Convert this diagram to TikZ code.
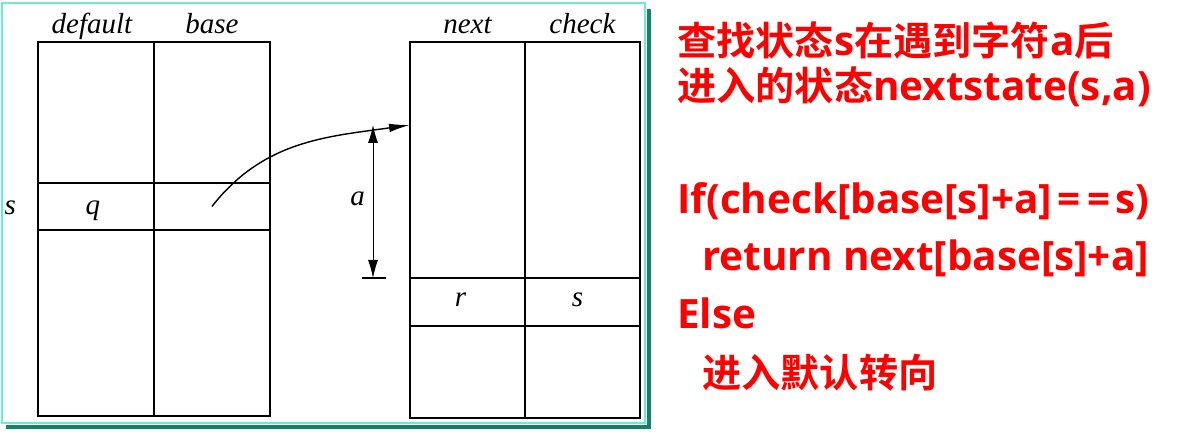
\documentclass[tikz,border=0pt]{standalone}
\usepackage{fontspec}
\usetikzlibrary{arrows.meta, positioning}
\newfontfamily\tms{Liberation Serif}
\newfontfamily\zhfont{Noto Sans CJK SC}[BoldFont={Noto Sans CJK SC Bold}]
\newfontfamily\enfont{Open Sans}
\newcommand{\zh}[1]{{\zhfont\fontsize{22.3}{26}\selectfont #1}}
\definecolor{framelight}{RGB}{110,235,205}
\definecolor{framedark}{RGB}{20,130,100}

\begin{document}
\begin{tikzpicture}[x=0.02cm, y=0.02cm]
	\tikzset{cell/.style={draw, line width=1.1pt, inner sep=0pt, outer sep=0pt, minimum width=2.32cm},
		lab/.style={font=\tms\itshape\fontsize{16.5}{19}\selectfont, inner sep=1pt, text height=0.75em, text depth=0.25em},
		note/.style={anchor=base west, text=red, inner sep=0pt, font=\enfont\bfseries\fontsize{23}{28}\selectfont},
		>={Latex[length=0.42cm, width=0.17cm]},
		dim/.style={{Latex[length=0.36cm, width=0.2cm]}-{Latex[length=0.36cm, width=0.2cm]}, line width=0.5pt}}
	\useasboundingbox (0,0) rectangle (1178,434);
	
	% frame of the table picture
	\draw[framelight, line width=1.2pt] (2,11) rectangle (645,431);
	\draw[framedark, line width=2.2pt] (6,7) -- (649,7) -- (649,425);
	
	% default / base
	\node[cell, minimum height=2.82cm, anchor=north west] (d1) at (38,392) {};
	\node[cell, minimum height=0.94cm, below=0pt of d1] (d2) {};
	\node[cell, minimum height=3.72cm, below=0pt of d2] (d3) {};
	\node[cell, minimum height=2.82cm, right=0pt of d1] (b1) {};
	\node[cell, minimum height=0.94cm, below=0pt of b1] (b2) {};
	\node[cell, minimum height=3.72cm, below=0pt of b2] (b3) {};
	\node[lab, above=0.04cm of d1, xshift=-0.08cm] (ldefault) {default};
	\node[lab, above=0.04cm of b1] (lbase) {base};
	\node[lab, left=0.4cm of d2, yshift=-0.08cm] (ls) {s};
	\node[lab, yshift=-0.08cm, xshift=-0.06cm] (lq) at (d2) {q};
	
	% next / check
	\node[cell, minimum width=2.3cm, minimum height=4.72cm, anchor=north west] (n1) at (410,392) {};
	\node[cell, minimum width=2.3cm, minimum height=0.96cm, below=0pt of n1] (n2) {};
	\node[cell, minimum width=2.3cm, minimum height=1.84cm, below=0pt of n2] (n3) {};
	\node[cell, minimum width=2.3cm, minimum height=4.72cm, right=0pt of n1] (c1) {};
	\node[cell, minimum width=2.3cm, minimum height=0.96cm, below=0pt of c1] (c2) {};
	\node[cell, minimum width=2.3cm, minimum height=1.84cm, below=0pt of c2] (c3) {};
	\node[lab, above=0.04cm of n1] (lnext) {next};
	\node[lab, above=0.04cm of c1] (lcheck) {check};
	\node[lab, xshift=-0.14cm] (lr) at (n2) {r};
	\node[lab, xshift=-0.1cm] (ls2) at (c2) {s};
	
	\coordinate (hit) at ([yshift=-1.66cm]n1.north west);
	\coordinate (atop) at ([xshift=-0.74cm]hit);
	\coordinate (abot) at ([xshift=-0.74cm]n1.south west);
	
	\draw[->, line width=0.8pt] (b2.center) to[out=52, in=188] (hit);
	\draw[dim] (abot) -- node[lab, left=0.12cm] (la) {a} (atop);
	\draw[line width=0.8pt] ([xshift=-0.22cm]abot) -- ([xshift=0.26cm]abot);
	
	% the lookup rule
	\node[note] (l1) at (677,379) {\zh{查找状态}s\zh{在遇到字符}a\zh{后}};
	\node[note] (l2) at (677,334) {\zh{进入的状态}nextstate(s,a)};
	\node[note] (l3) at (677,221) {If(check[base[s]+a]\kern3pt=\kern4pt=\kern3pt s)};
	\node[note] (l4) at (702,164) {return next[base[s]+a]};
	\node[note] (l5) at (677,106) {Else};
	\node[note] (l6) at (702,47) {\zh{进入默认转向}};
\end{tikzpicture}
\end{document}
